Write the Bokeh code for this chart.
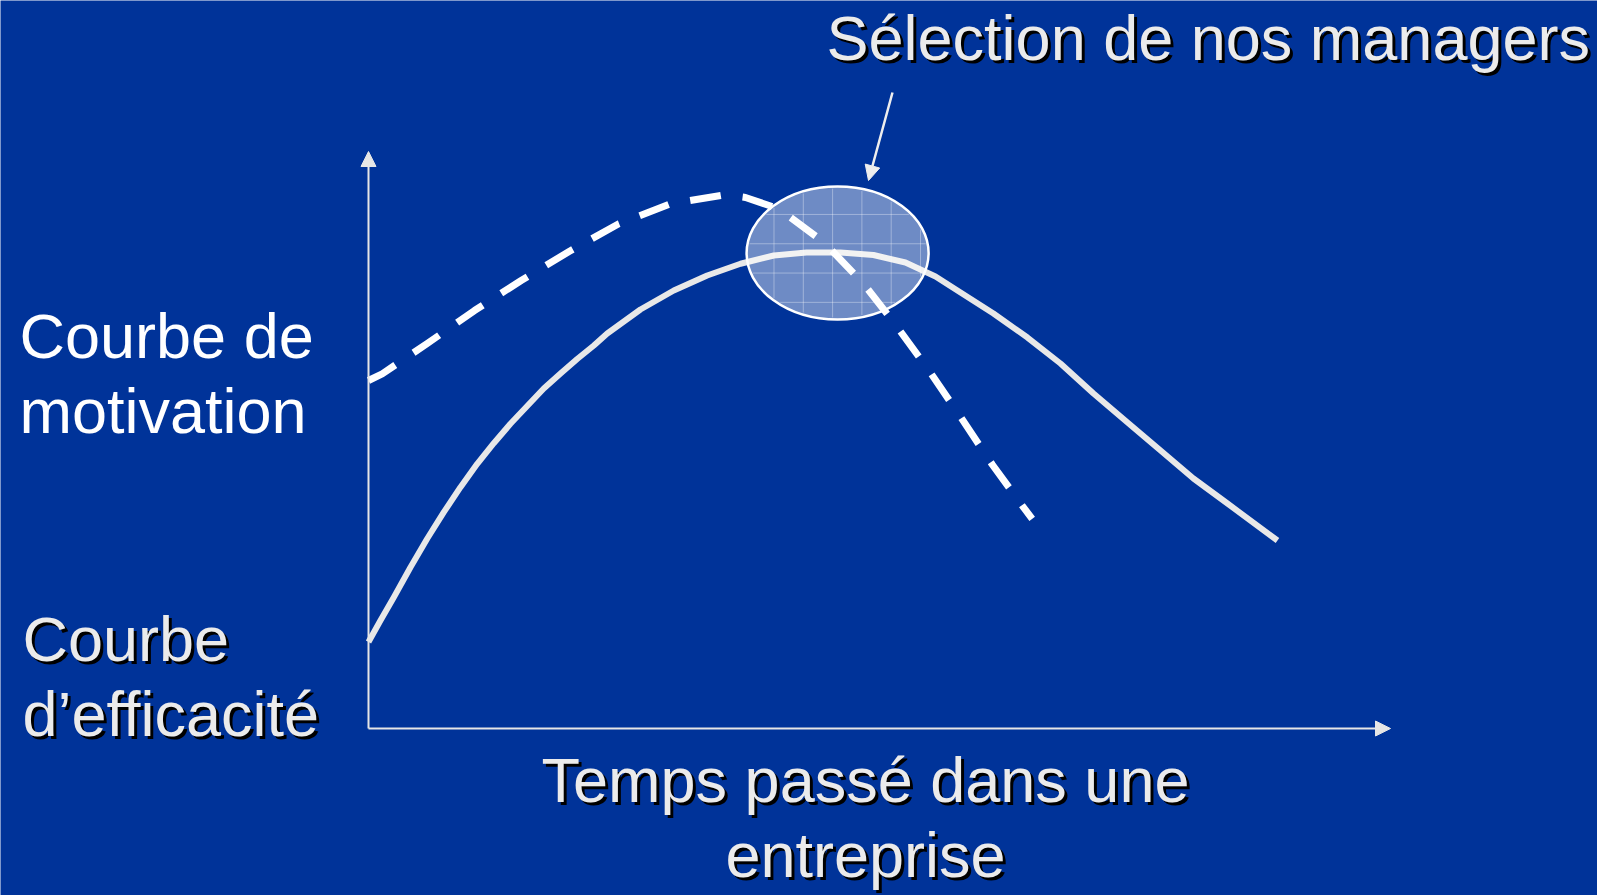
import numpy as np
from bokeh.plotting import figure
from bokeh.models import Range1d, Arrow, NormalHead, ColumnDataSource
from bokeh.core.properties import value
from bokeh.embed import file_html
from bokeh.resources import INLINE

# ---------------- data ----------------
# x: temps passé dans l'entreprise (0..100 = length of the time axis)
# y: niveau (0..100 = height of the vertical axis)
eff_x = [0.0, 1.17, 2.48, 4.11, 5.74, 7.37, 9.00, 10.64, 12.26, 13.89, 15.53, 17.15,
         18.79, 20.42, 22.05, 23.36, 26.61, 29.87, 33.14, 36.40, 39.66, 42.86, 46.18,
         49.41, 52.54, 55.48, 57.93, 61.15, 64.48, 67.71, 70.94, 74.27, 77.50, 80.72,
         84.05, 88.94]
eff_y = [15.0, 18.72, 22.76, 27.96, 32.88, 37.49, 41.82, 45.87, 49.45, 52.81, 55.89, 58.93,
         61.53, 64.04, 66.38, 68.46, 72.62, 75.91, 78.51, 80.54, 81.98, 82.50, 82.50,
         82.06, 80.76, 78.34, 75.56, 71.92, 67.76, 63.26, 58.06, 53.03, 48.18, 43.33,
         38.99, 32.58]

mot_x = [0.0, 1.34, 5.80, 10.37, 14.94, 19.67, 24.49, 29.55, 34.93, 36.89, 40.15,
         44.55, 48.37, 51.63, 54.89, 57.99, 61.03, 64.12, 64.94]
mot_y = [60.31, 61.47, 66.78, 72.44, 77.64, 82.72, 87.47, 90.94, 92.50, 92.03, 90.07,
         84.28, 77.24, 69.84, 61.92, 53.85, 45.75, 38.25, 36.34]

# zone "Sélection de nos managers"
zone_x = [45.9]
zone_y = [82.4]

title_text = "Sélection de nos managers"
motivation_lines = ["Courbe de", "motivation"]
efficacite_lines = ["Courbe", "d\u2019efficacité"]
xlabel_lines = ["Temps passé dans une", "entreprise"]

# ---------------- layout helpers ----------------
W, H = 1597, 895
ORIG_PX, ORIG_PY = 368.0, 728.0      # page position of the axes origin
PX_PER_X = 10.22
PX_PER_Y = 5.77
TEXT_DY = 25                          # renderer baseline correction (px)


def dx(page_x):
    return (page_x - ORIG_PX) / PX_PER_X


def dy(page_y):
    return (ORIG_PY - page_y) / PX_PER_Y


BG = "#003399"
FONT = "Liberation Sans"
FS = "63px"

p = figure(width=W, height=H,
           x_range=Range1d(dx(0), dx(W)),
           y_range=Range1d(dy(H), dy(0)),
           output_backend="svg", toolbar_location=None,
           x_axis_type=None, y_axis_type=None, min_border=0,
           background_fill_color=BG, border_fill_color=BG,
           outline_line_color=None)
p.grid.visible = False

# axes with arrows
axis_color = "#e6e6e6"
p.add_layout(Arrow(end=NormalHead(size=15, fill_color=axis_color, line_color=axis_color, line_width=1),
                   x_start=0, y_start=0, x_end=0, y_end=100,
                   line_color=axis_color, line_width=2))
p.add_layout(Arrow(end=NormalHead(size=15, fill_color=axis_color, line_color=axis_color, line_width=1),
                   x_start=0, y_start=0, x_end=100, y_end=0,
                   line_color=axis_color, line_width=2))

# efficiency curve (solid)
p.line(eff_x, eff_y, line_color="#e8e8e8", line_width=6, line_cap="butt", line_join="round")

# selection ellipse
EW, EH = 182, 133
p.ellipse(zone_x, zone_y, width=EW, height=EH, width_units="screen", height_units="screen",
          fill_color="white", fill_alpha=0.43, line_color="white", line_width=2.5)

# light grid inside the ellipse
cx_px = ORIG_PX + zone_x[0] * PX_PER_X
cy_px = ORIG_PY - zone_y[0] * PX_PER_Y
a, b = EW / 2 - 2, EH / 2 - 2
step = 29.3
gx, gy = [], []
for k in range(-3, 4):
    ox = k * step - 5
    if abs(ox) < a - 3:
        hh = b * np.sqrt(1 - (ox / a) ** 2)
        gx.append([dx(cx_px + ox), dx(cx_px + ox)])
        gy.append([dy(cy_px - hh), dy(cy_px + hh)])
for k in range(-3, 3):
    oy = k * step + 20
    if abs(oy) < b - 3:
        ww = a * np.sqrt(1 - (oy / b) ** 2)
        gx.append([dx(cx_px - ww), dx(cx_px + ww)])
        gy.append([dy(cy_px + oy), dy(cy_px + oy)])
p.multi_line(gx, gy, line_color="white", line_alpha=0.35, line_width=1)

# motivation curve (dashed)
p.line(mot_x, mot_y, line_color="white", line_width=7, line_dash="31 22", line_join="round")

# pointer arrow
p.add_layout(Arrow(end=NormalHead(size=15, fill_color="#eeeeee", line_color="#eeeeee", line_width=1),
                   x_start=dx(892), y_start=dy(92), x_end=dx(868), y_end=dy(180),
                   line_color="#eeeeee", line_width=2.5))


def label(lines, xs, ys, align="left", color="#ebebeb", shadow=True):
    src = ColumnDataSource(dict(x=[dx(v) for v in xs], y=[dy(v - TEXT_DY) for v in ys], t=lines))
    if shadow:
        p.text("x", "y", text="t", source=src, text_font=value(FONT), text_font_size=FS,
               text_color="black", text_align=align, text_baseline="alphabetic",
               x_offset=3, y_offset=3)
    p.text("x", "y", text="t", source=src, text_font=value(FONT), text_font_size=FS,
           text_color=color, text_align=align, text_baseline="alphabetic")


label([title_text], [826], [62])
label(motivation_lines, [19, 19], [360, 435], color="white", shadow=False)
label(efficacite_lines, [22, 22], [663, 738])
label(xlabel_lines, [865, 865], [804, 879], align="center")

html = file_html(p, INLINE)
html = html.replace("<body>", '<body style="background:%s;">' % BG, 1)
open("out.html", "w").write(html)
